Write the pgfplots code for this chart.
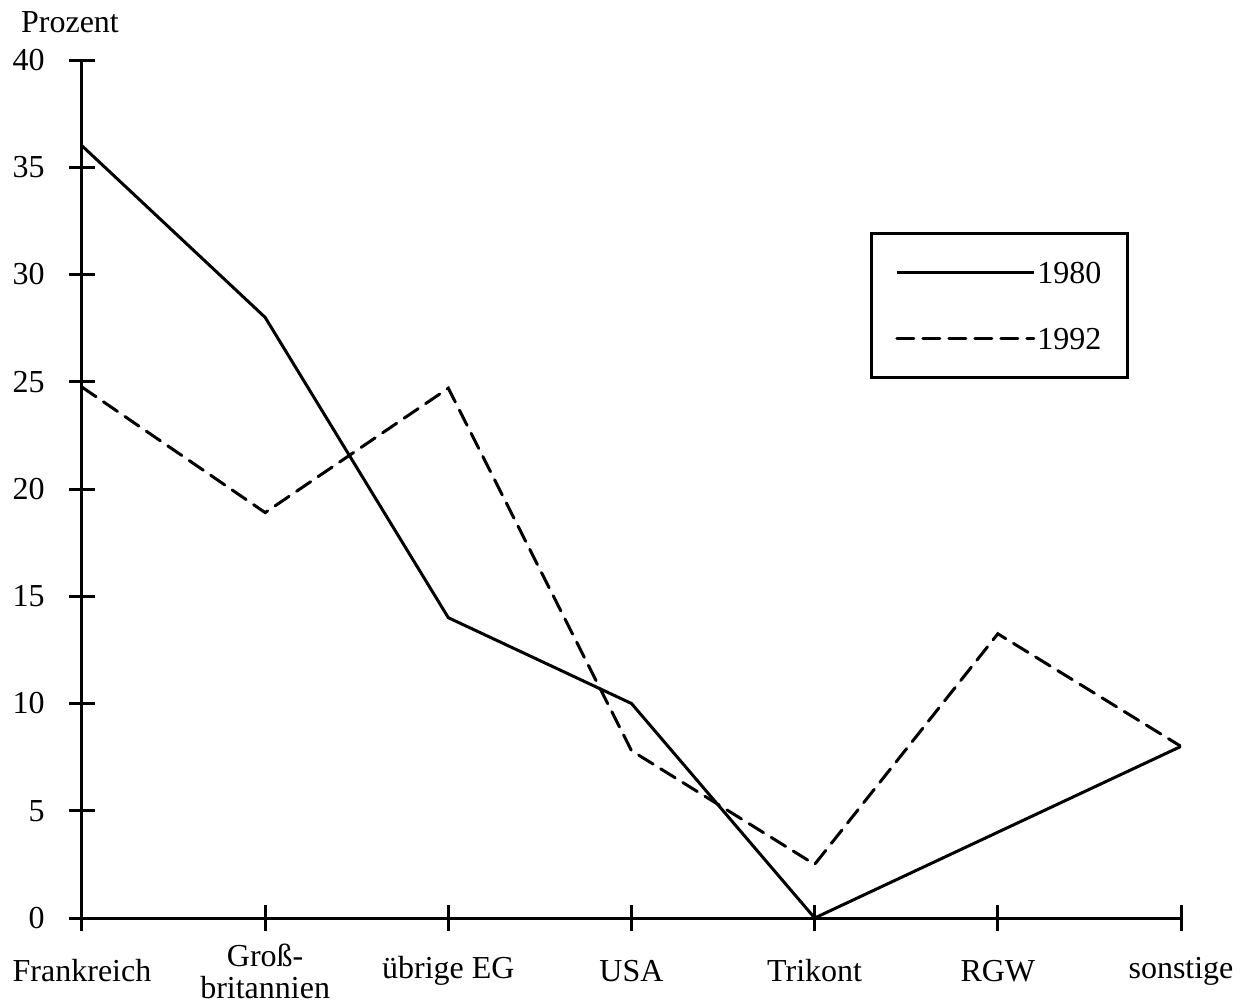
\documentclass[border=0pt]{standalone}
\usepackage{fontspec}
\setmainfont{Liberation Serif}
\usepackage{pgfplots}
\pgfplotsset{compat=1.18}

\begin{document}
\fontsize{16}{19}\selectfont
\begin{tikzpicture}
% 1 px of the reference = 0.5pt; axis box lower left at (0,0)
\useasboundingbox (-41pt,-42.5pt) rectangle (581pt,459pt);
\begin{axis}[
    scale only axis,
    width=549.5pt, height=429pt,
    xmin=0, xmax=6,
    ymin=0, ymax=40,
    axis x line*=bottom,
    axis y line*=left,
    axis line style={-, line width=1.5pt},
    xtick={0,1,2,3,4,5,6},
    xticklabels={Frankreich, Groß-\\britannien, übrige EG, USA, Trikont, RGW, sonstige},
    ytick={0,5,10,15,20,25,30,35,40},
    tick align=center,
    major tick length=13pt,
    tick style={line width=1.5pt, black},
    /pgf/number format/assume math mode=true,
    xticklabel style={anchor=center, align=center, yshift=-20pt,
        font=\fontsize{16}{16}\selectfont},
    yticklabel style={anchor=east, inner sep=0pt, xshift=-12pt},
    ylabel={Prozent},
    every axis y label/.style={at={(rel axis cs:0,1)}, anchor=center, xshift=-6pt, yshift=18.75pt},
    legend style={at={(axis description cs:0.717,0.7995)}, anchor=north west,
        draw=black, line width=1.5pt, inner xsep=12pt, inner ysep=13pt,
        row sep=20pt, legend cell align=left,
        nodes={inner sep=1pt, text height=11pt, text depth=0pt}},
    legend image code/.code={\draw[#1] (0pt,0pt) -- (68.5pt,0pt);},
]
\addplot[black, line width=1.5pt, line join=miter] coordinates {
    (0,36) (1,28) (2,14) (3,10) (4,0) (5,4) (6,8)
};
\addplot[black, line width=1.5pt, dash pattern=on 8.5pt off 4.5pt, line cap=round] coordinates {
    (0,24.75) (1,18.9) (2,24.7) (3,7.8) (4,2.5) (5,13.25) (6,8)
};
\legend{1980, 1992}
\end{axis}
\end{tikzpicture}
\end{document}
